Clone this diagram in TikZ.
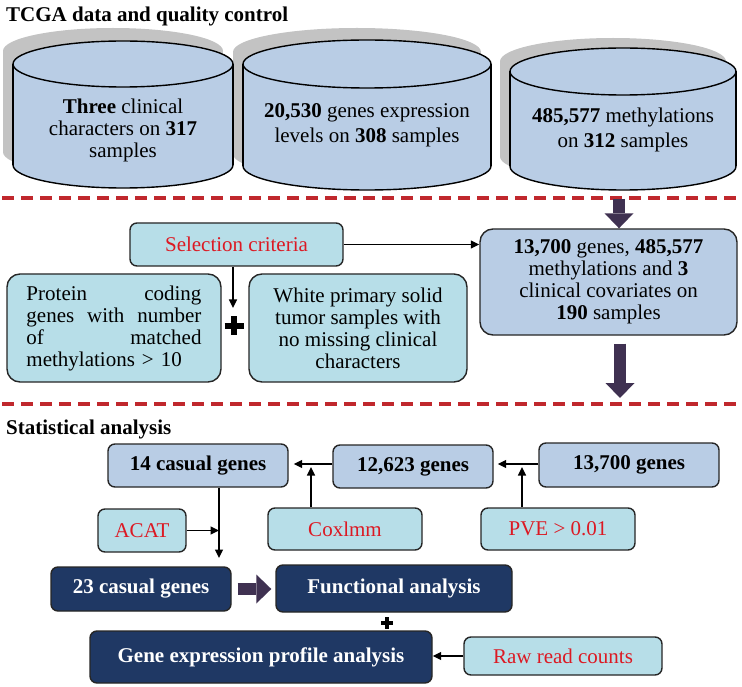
\documentclass[tikz,border=0pt]{standalone}
\usepackage{fontspec}
\setmainfont{Liberation Serif}
\usetikzlibrary{arrows.meta}
\definecolor{cylblue}{RGB}{185,205,229}
\definecolor{lcyan}{RGB}{183,222,232}
\definecolor{navyfill}{RGB}{31,56,100}
\definecolor{darkpurp}{RGB}{63,49,81}
\definecolor{redtxt}{RGB}{220,25,35}
\definecolor{reddash}{RGB}{192,40,45}
\definecolor{shadowgray}{RGB}{195,195,195}
\begin{document}
\begin{tikzpicture}[x=1pt,y=-1pt,
  box/.style={draw=black!85, line width=1.4pt, rounded corners=7pt, inner sep=0pt, align=center, font=\fontsize{21}{23}\selectfont},
  bluebox/.style={box, fill=cylblue},
  cyanbox/.style={box, fill=lcyan},
  redlabel/.style={text=redtxt},
  boldbox/.style={font=\fontsize{21}{23}\selectfont\bfseries},
  navybox/.style={box, fill=navyfill, text=white, font=\fontsize{21}{23}\selectfont\bfseries},
  cyltext/.style={align=center, inner sep=0pt, font=\fontsize{21}{22}\selectfont},
  cylline/.style={draw=black, line width=1.4pt},
  conn/.style={draw=black, line width=1.5pt, -{Triangle[length=8.5pt,width=8pt]}},
  blockarrow/.style={draw=darkpurp, line width=12.5pt, -{Triangle[length=15pt,width=29pt,line width=0pt]}},
  sepline/.style={draw=reddash, line width=3.5pt, dash pattern=on 12pt off 7pt},
  heading/.style={anchor=base west, inner sep=0pt, font=\fontsize{21}{23}\selectfont\bfseries}
]
\useasboundingbox (0,0) rectangle (742,687);
\fill[white] (0,0) rectangle (742,687);

% titles
\node[heading] (title) at (6,22) {TCGA data and quality control};
\node[heading] (stat) at (6,434) {Statistical analysis};

% cylinder shadows
\foreach \L/\R/\yt/\ry/\yb/\sx/\sy in {13/233/64/23/165/-10/-13, 243/491/64/24/166/-10/-12, 510/736/71.5/23.5/166.5/-10/-10}{
  \pgfmathsetmacro\cx{(\L+\R)/2}
  \pgfmathsetmacro\rx{(\R-\L)/2}
  \fill[shadowgray] (\L+\sx,\yt+\sy) rectangle (\R+\sx,\yb+\sy);
  \fill[shadowgray] (\cx+\sx,\yt+\sy) ellipse [x radius=\rx pt, y radius=\ry pt];
  \fill[shadowgray] (\cx+\sx,\yb+\sy) ellipse [x radius=\rx pt, y radius=\ry pt];
}
% cylinders
\foreach \L/\R/\yt/\ry/\yb in {13/233/64/23/165, 243/491/64/24/166, 510/736/71.5/23.5/166.5}{
  \pgfmathsetmacro\cx{(\L+\R)/2}
  \pgfmathsetmacro\rx{(\R-\L)/2}
  \fill[cylblue] (\L,\yt) rectangle (\R,\yb);
  \fill[cylblue] (\cx,\yb) ellipse [x radius=\rx pt, y radius=\ry pt];
  \begin{scope}
    \clip (\L-3,\yb) rectangle (\R+3,\yb+\ry+3);
    \draw[cylline] (\cx,\yb) ellipse [x radius=\rx pt, y radius=\ry pt];
  \end{scope}
  \draw[cylline] (\L,\yt) -- (\L,\yb) (\R,\yt) -- (\R,\yb);
  \filldraw[cylline, fill=cylblue] (\cx,\yt) ellipse [x radius=\rx pt, y radius=\ry pt];
}
\node[cyltext] (c1) at (123,130) {\textbf{Three} clinical\\characters on \textbf{317}\\samples};
\node[cyltext, font=\fontsize{21}{25}\selectfont] (c2) at (367,125) {\textbf{20,530} genes expression\\levels on \textbf{308} samples};
\node[cyltext, font=\fontsize{21}{25}\selectfont] (c3) at (623,130) {\textbf{485,577} methylations\\on \textbf{312} samples};

% separators
\draw[sepline] (2,198) -- (742,198);
\draw[sepline] (2,404) -- (742,404);

% quality-control boxes
\node[cyanbox, redlabel, minimum width=213pt, minimum height=43pt] (sel) at (236.5,244.5) {Selection criteria};
\node[bluebox, rounded corners=13pt, minimum width=257pt, minimum height=106pt, font=\fontsize{21}{22}\selectfont] (big) at (608.5,282)
  {\textbf{13,700} genes, \textbf{485,577}\\methylations and \textbf{3}\\clinical covariates on\\\textbf{190} samples};
\node[cyanbox, rounded corners=13pt, minimum width=214pt, minimum height=108pt, text width=175pt, align=left, font=\fontsize{21}{22}\selectfont] (prot) at (114,328)
  {Protein\hfill coding\\genes\hfill with\hfill number\\of\hfill matched\\methylations > 10};
\node[cyanbox, rounded corners=13pt, minimum width=218pt, minimum height=108pt, font=\fontsize{21}{22}\selectfont] (white) at (358,328)
  {White primary solid\\tumor samples with\\no missing clinical\\characters};

\coordinate (c3bot) at (619,199);
\coordinate (a2end) at (620,398);
\coordinate (selend) at (233,308);
\draw[blockarrow] (c3bot) -- (c3bot |- big.north);
\draw[blockarrow, shorten <=8pt] (big.south -| a2end) -- (a2end);
\draw[conn] (sel.east) -- (sel.east -| big.west);
\draw[conn] (sel.south -| selend) -- (selend);
\draw[line width=6pt] (234,316) -- (234,335) (224.5,325.5) -- (243.5,325.5);

% statistical analysis
\node[bluebox, boldbox, minimum width=180pt, minimum height=43pt] (g14) at (198,465.5) {14 casual genes};
\node[bluebox, boldbox, minimum width=160pt, minimum height=43pt] (g12) at (413,466.5) {12,623 genes};
\node[bluebox, boldbox, minimum width=180pt, minimum height=44pt] (g13) at (629,465) {13,700 genes};
\node[cyanbox, redlabel, minimum width=88pt, minimum height=43pt] (acat) at (142,530.5) {ACAT};
\node[cyanbox, redlabel, minimum width=154pt, minimum height=42pt] (cox) at (345,529) {Coxlmm};
\node[cyanbox, redlabel, minimum width=154pt, minimum height=42pt] (pve) at (558,529) {PVE > 0.01};
\node[navybox, minimum width=180pt, minimum height=44pt] (c23) at (141,589) {23 casual genes};
\node[navybox, minimum width=236pt, minimum height=47pt] (func) at (394,588.5) {Functional analysis};
\node[navybox, minimum width=342pt, minimum height=52pt] (gep) at (261,657) {Gene expression profile analysis};
\node[cyanbox, redlabel, minimum width=198pt, minimum height=38pt] (raw) at (563,656) {Raw read counts};

\coordinate (j1) at (311,467);
\coordinate (j2) at (522,467);
\coordinate (j3) at (219,558);
\draw[conn, shorten >=5pt] (g12.west |- 0,464) -- (g14.east |- 0,464);
\draw[conn, shorten >=4pt] (g13.west |- 0,464) -- (g12.east |- 0,464);
\draw[conn] (cox.north -| j1) -- (j1);
\draw[conn] (pve.north -| j2) -- (j2);
\draw[conn] (g14.south -| j3) -- (j3);
\draw[conn] (acat.east) -- (acat.east -| j3);
\draw[conn] (raw.west) -- (raw.west -| gep.east);
\draw[blockarrow, shorten <=6pt, shorten >=4pt] (c23.east) -- (func.west |- c23.east);
\draw[line width=4pt] (387,617) -- (387,629) (381,623) -- (393,623);
\end{tikzpicture}
\end{document}
